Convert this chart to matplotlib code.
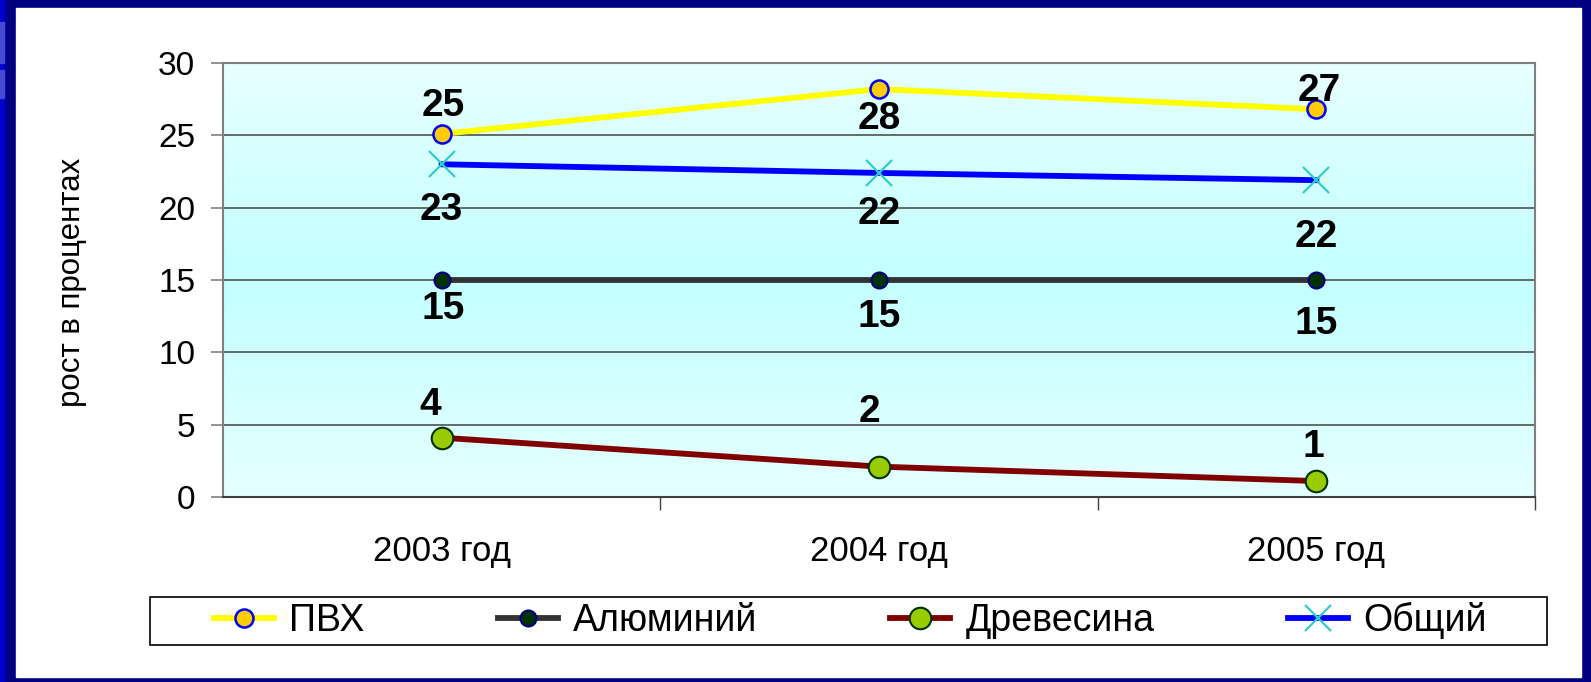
import matplotlib
matplotlib.use("Agg")
import matplotlib.pyplot as plt
import numpy as np
from matplotlib.colors import LinearSegmentedColormap
from matplotlib.patches import Rectangle

plt.rcParams["font.family"] = ["Liberation Sans", "DejaVu Sans"]

# === данные ===
years = ["2003 год", "2004 год", "2005 год"]
pvc = [25.1, 28.2, 26.8]        # ПВХ
alum = [15, 15, 15]             # Алюминий
wood = [4.1, 2.1, 1.1]          # Древесина
total = [23.0, 22.4, 21.9]      # Общий
y_ticks = [0, 5, 10, 15, 20, 25, 30]

# смещения подписей (px): dx, dy
pvc_off = [(2, 28), (0, -30), (3, 18)]
alum_off = [(2, -29), (0, -37), (0, -44)]
wood_off = [(-11, 33), (-10, 55), (-3, 34)]
total_off = [(0, -46), (0, -41), (0, -57)]

W, H = 1591, 682
fig = plt.figure(figsize=(W / 100, H / 100), dpi=100)
fig.patch.set_facecolor("#000080")

# рамка слайда
def frect(x0, y0, x1, y1, color):
    fig.patches.append(Rectangle((x0 / W, 1 - y1 / H), (x1 - x0) / W, (y1 - y0) / H,
                                 transform=fig.transFigure, color=color, zorder=-5))

frect(0, 0, 4, H, "#0000d0")
frect(0, 22, 4, 63, "#4848d8")
frect(0, 70, 4, 98, "#4848d8")
frect(16, 8, 1581, 677, "white")

ax = fig.add_axes([223 / W, 1 - 497 / H, 1312 / W, 434 / H])
ax.set_xlim(-0.5, 2.5)
ax.set_ylim(0, 30)

# градиент фона
cmap = LinearSegmentedColormap.from_list(
    "bg", [(0, "#e6ffff"), (0.45, "#c6ffff"), (0.55, "#c6ffff"), (1, "#e8ffff")])
grad = np.linspace(0, 1, 256).reshape(-1, 1)
ax.imshow(grad, extent=[-0.5, 2.5, 0, 30], aspect="auto", cmap=cmap,
          origin="lower", zorder=0, interpolation="bicubic")

for v in y_ticks[1:-1]:
    ax.axhline(v, color="#505050", lw=1.2, zorder=1)

x = np.arange(len(years))
ax.plot(x, pvc, color="#ffff00", lw=4.2, marker="o", ms=13, mfc="#ffcc00",
        mec="#0000ff", mew=1.8, zorder=4, label="ПВХ")
ax.plot(x, alum, color="#333333", lw=4.2, marker="o", ms=11.5, mfc="#003300",
        mec="#000080", mew=1.5, zorder=3, label="Алюминий")
ax.plot(x, wood, color="#800000", lw=4.2, marker="o", ms=15.5, mfc="#99cc00",
        mec="#003300", mew=1.5, zorder=3, label="Древесина")
ax.plot(x, total, color="#0000ff", lw=4.2, marker="x", ms=19, mec="#33cccc",
        mew=1.6, zorder=3, label="Общий")

for vals, offs in [(pvc, pvc_off), (alum, alum_off), (wood, wood_off), (total, total_off)]:
    for xi, v, (dx, dy) in zip(x, vals, offs):
        ax.annotate(f"{round(v)}", (xi, v), xytext=(dx * 0.72, dy * 0.72),
                    textcoords="offset points", ha="center", va="center",
                    fontsize=28, fontweight="bold", zorder=5)

ax.set_yticks(y_ticks)
ax.tick_params(axis="y", direction="out", length=9, width=1.2, color="#808080",
               labelsize=24, pad=11)
ax.set_xticks(x)
ax.set_xticklabels(years)
ax.tick_params(axis="x", which="major", length=0, labelsize=25, pad=27)
ax.set_xticks([0.5, 1.5, 2.5], minor=True)
ax.tick_params(axis="x", which="minor", direction="out", length=9, width=1,
               color="#404040")
for s in ["top", "right", "left"]:
    ax.spines[s].set_color("#808080")
    ax.spines[s].set_linewidth(1.5)
ax.spines["bottom"].set_color("#404040")
ax.spines["bottom"].set_linewidth(1.5)

fig.text(72 / W, 1 - 282 / H, "рост в процентах", rotation=90, ha="center",
         va="center", fontsize=22.5)

# рамка легенды
fig.patches.append(Rectangle((150 / W, 1 - 645 / H), 1397 / W, 48 / H,
                             transform=fig.transFigure, facecolor="white",
                             edgecolor="black", lw=1.2, zorder=-4))
fig.legend(loc="lower left", bbox_to_anchor=(208 / W, 1 - 645 / H, 1284 / W, 48 / H),
           ncol=4, mode="expand", fontsize=27, frameon=False,
           handlelength=1.6, handletextpad=0.4, borderaxespad=0, borderpad=0.15)

fig.savefig("out.png", dpi=100, facecolor=fig.get_facecolor())
